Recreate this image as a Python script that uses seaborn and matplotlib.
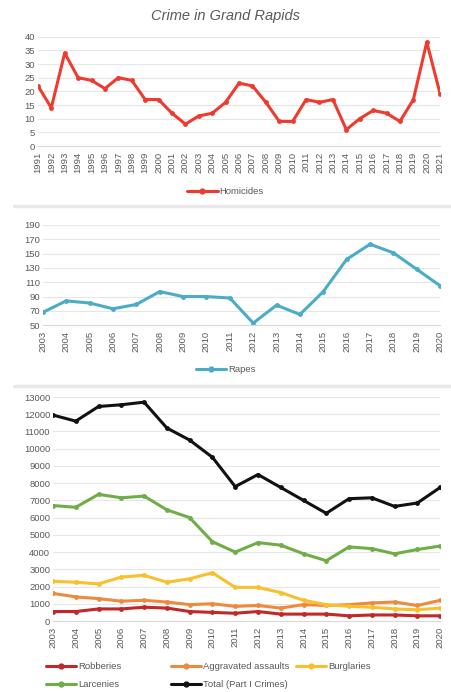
import pandas as pd
import matplotlib.pyplot as plt
import seaborn as sns
from matplotlib.lines import Line2D

# Homicides 1991-2021
hom_years = list(range(1991, 2022))
homicides = [22, 14, 34, 25, 24, 21, 25, 24, 17, 17, 12, 8, 11, 12, 16, 23,
             22, 16, 9, 9, 17, 16, 17, 6, 10, 13, 12, 9, 17, 38, 19]

# Rapes and other crimes 2003-2020
years = list(range(2003, 2021))
rapes = [68, 84, 81, 73, 79, 97, 90, 90, 88, 53, 78, 65, 97, 142, 163, 151, 128, 105]

robberies = [550, 550, 700, 700, 800, 750, 550, 500, 450, 550, 400, 400, 400, 300, 350, 350, 300, 300]
assaults = [1600, 1400, 1300, 1150, 1200, 1100, 950, 1000, 850, 900, 750, 950, 900, 950, 1050, 1100, 900, 1200]
burglaries = [2300, 2250, 2150, 2550, 2650, 2250, 2450, 2800, 1950, 1950, 1650, 1200, 950, 850, 800, 700, 650, 750]
larcenies = [6700, 6600, 7350, 7150, 7250, 6450, 6000, 4600, 4000, 4550, 4400, 3900, 3500, 4300, 4200, 3900, 4150, 4350]
total = [11950, 11600, 12450, 12550, 12700, 11200, 10500, 9500, 7800, 8500, 7750, 7000, 6250, 7100, 7150, 6650, 6850, 7750]

crime_names = ['Robberies', 'Aggravated assaults', 'Burglaries', 'Larcenies', 'Total (Part I Crimes)']
crime_colors = ['#C0282A', '#ED8A3E', '#F9C02D', '#70AD47', '#111111']

sns.set_style('white')
plt.rcParams['font.family'] = ['Liberation Sans', 'DejaVu Sans']

gray = '#595959'
grid = '#E6E6E6'
fs = 6.8

fig = plt.figure(figsize=(4.51, 6.92), dpi=100)
fig.text(0.5, 0.977, 'Crime in Grand Rapids', ha='center', va='center',
         fontsize=10.5, style='italic', color=gray)


def style_ax(ax, xvals):
    ax.set_xlim(xvals[0], xvals[-1])
    ax.set_xticks(xvals)
    ax.set_xticklabels([str(y) for y in xvals], rotation=90)
    ax.tick_params(axis='both', labelsize=fs, colors=gray, length=0, pad=2)
    ax.tick_params(axis='x', length=3, color='#D9D9D9', pad=1)
    for s in ['top', 'right', 'left']:
        ax.spines[s].set_visible(False)
    ax.spines['bottom'].set_color('#D9D9D9')
    ax.grid(axis='y', color=grid, linewidth=0.8)
    ax.set_axisbelow(True)
    ax.set_xlabel('')
    ax.set_ylabel('')


def leg_handle(c):
    return Line2D([], [], color=c, marker='o', markersize=3.5, lw=2.2)


leg_kw = dict(frameon=False, fontsize=fs, labelcolor=gray, handlelength=3.2,
              handletextpad=0.2, borderpad=0, borderaxespad=0)

# Panel 1: Homicides
ax1 = fig.add_axes([0.084, 0.789, 0.892, 0.158])
hom_df = pd.DataFrame({'year': hom_years, 'count': homicides})
sns.lineplot(data=hom_df, x='year', y='count', ax=ax1, color='#EE3B30',
             marker='o', markersize=3.5, markeredgewidth=0, linewidth=2.2)
ax1.set_ylim(0, 40)
ax1.set_yticks(range(0, 41, 5))
style_ax(ax1, hom_years)
fig.legend(handles=[leg_handle('#EE3B30')], labels=['Homicides'], loc='center',
           bbox_to_anchor=(0.5, 1 - 192 / 692), **leg_kw)

# Panel 2: Rapes
ax2 = fig.add_axes([0.095, 0.530, 0.881, 0.145])
rape_df = pd.DataFrame({'year': years, 'count': rapes})
sns.lineplot(data=rape_df, x='year', y='count', ax=ax2, color='#4BACC6',
             marker='o', markersize=3.5, markeredgewidth=0, linewidth=2.2)
ax2.set_ylim(50, 190)
ax2.set_yticks(range(50, 191, 20))
style_ax(ax2, years)
fig.legend(handles=[leg_handle('#4BACC6')], labels=['Rapes'], loc='center',
           bbox_to_anchor=(0.5, 1 - 370 / 692), **leg_kw)

# Panel 3: Other crimes
ax3 = fig.add_axes([0.1175, 0.1026, 0.8585, 0.3237])
crime_df = pd.DataFrame({'year': years, 'Robberies': robberies, 'Aggravated assaults': assaults,
                         'Burglaries': burglaries, 'Larcenies': larcenies,
                         'Total (Part I Crimes)': total})
long_df = crime_df.melt(id_vars='year', var_name='crime', value_name='count')
sns.lineplot(data=long_df, x='year', y='count', hue='crime', hue_order=crime_names,
             palette=crime_colors, ax=ax3, marker='o', markersize=3.5,
             markeredgewidth=0, linewidth=2.2, legend=False)
ax3.set_ylim(0, 13000)
ax3.set_yticks(range(0, 13001, 1000))
style_ax(ax3, years)

# legend laid out as three equal-width columns
columns = [[0, 3], [1, 4], [2]]
col_x = [46, 171, 296]
for idx, x0 in zip(columns, col_x):
    fig.legend(handles=[leg_handle(crime_colors[i]) for i in idx],
               labels=[crime_names[i] for i in idx], loc='upper left',
               bbox_to_anchor=(x0 / 451, 1 - 662 / 692), labelspacing=1.0, **leg_kw)

# separators between panels
for yy in [1 - 206 / 692, 1 - 386 / 692]:
    fig.add_artist(Line2D([0.03, 1.0], [yy, yy], color='#E8E8E8', lw=2.5,
                          transform=fig.transFigure))

fig.savefig('out.png', dpi=100)
